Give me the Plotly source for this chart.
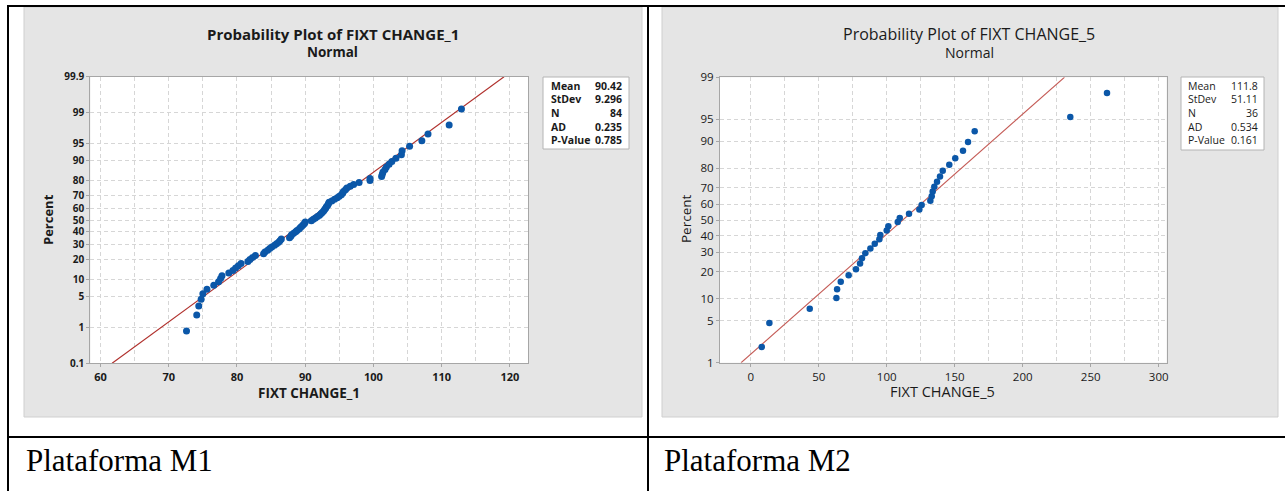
import plotly.graph_objects as go
from statistics import NormalDist

W, H = 1285, 491

# Sorted observations of FIXT CHANGE_1 (Plataforma M1)
fixt_change_1 = [
    72.6, 74.1, 74.4, 74.75, 75.0, 75.6, 76.6, 77.3, 77.6, 77.8,
    78.8, 79.4, 79.8, 80.2, 80.6, 81.6, 81.9, 82.3, 82.7, 83.9,
    84.1, 84.5, 84.8, 85.1, 85.5, 85.8, 86.1, 86.3, 86.5, 87.7,
    87.9, 88.0, 88.3, 88.6, 88.8, 89.1, 89.3, 89.5, 89.7, 89.9,
    90.0, 90.9, 91.2, 91.5, 91.8, 92.1, 92.3, 92.5, 92.7, 92.85,
    93.0, 93.1, 93.3, 93.4, 93.5, 93.9, 94.3, 94.7, 95.0, 95.3,
    95.5, 95.6, 95.9, 96.1, 96.6, 97.1, 97.9, 99.5, 99.5, 101.2,
    101.3, 101.4, 101.7, 101.9, 102.3, 102.7, 103.3, 104.1, 104.2, 105.3,
    107.1, 108.0, 111.1, 112.9,
]

# Sorted observations of FIXT CHANGE_5 (Plataforma M2)
fixt_change_5 = [
    8.1, 13.7, 43.4, 63.0, 63.5, 66.2, 72.0, 77.4, 80.4, 81.8,
    84.3, 88.0, 91.2, 94.6, 95.3, 100.0, 101.2, 108.1, 109.6, 116.4,
    124.0, 125.7, 132.1, 133.1, 133.8, 135.0, 137.0, 139.2, 141.2, 146.0,
    150.4, 156.1, 159.8, 164.7, 235.0, 262.0,
]

# Fitted normal parameters and goodness-of-fit summaries
mean_1, sd_1 = 90.42, 9.296
mean_5, sd_5 = 111.8, 51.11
stat_labels = ["Mean", "StDev", "N", "AD", "P-Value"]
stat_values_1 = ["90.42", "9.296", "84", "0.235", "0.785"]
stat_values_5 = ["111.8", "51.11", "36", "0.534", "0.161"]

# Percent ticks on the probability axes
pct_ticks_1 = [0.1, 1, 5, 10, 20, 30, 40, 50, 60, 70, 80, 90, 95, 99, 99.9]
pct_ticks_5 = [1, 5, 10, 20, 30, 40, 50, 60, 70, 80, 90, 95, 99]

captions = ["Plataforma M1", "Plataforma M2"]

nd = NormalDist()


def z(pct):
    return nd.inv_cdf(pct / 100.0)


def median_ranks(n):
    # Benard's approximation used for normal probability plots
    return [(i - 0.3) / (n + 0.4) * 100.0 for i in range(1, n + 1)]


def px(x):
    return x / W


def py(y):
    return 1 - y / H


MT_FONT = "Open Sans"
BLUE = "#0b57a8"
GRID = "#d6d6d6"
FRAME = "#a6a6a6"
TXT = "#1a1a1a"

fig = go.Figure()

panels = [
    dict(data=fixt_change_1, mean=mean_1, sd=sd_1, lo=0.1, hi=99.9, ticks=pct_ticks_1,
         xa="x", ya="y", line="#b0302c", msize=7),
    dict(data=fixt_change_5, mean=mean_5, sd=sd_5, lo=1, hi=99, ticks=pct_ticks_5,
         xa="x2", ya="y2", line="#c45a55", msize=6.5),
]

for p in panels:
    zlo, zhi = z(p["lo"]), z(p["hi"])
    fig.add_trace(go.Scatter(
        x=[p["mean"] + p["sd"] * zlo, p["mean"] + p["sd"] * zhi], y=[zlo, zhi],
        mode="lines", line=dict(color=p["line"], width=1.1),
        xaxis=p["xa"], yaxis=p["ya"], showlegend=False, hoverinfo="skip"))
    fig.add_trace(go.Scatter(
        x=p["data"], y=[z(q) for q in median_ranks(len(p["data"]))],
        mode="markers", marker=dict(color=BLUE, size=p["msize"], line=dict(width=0)),
        xaxis=p["xa"], yaxis=p["ya"], showlegend=False))


def xaxis_cfg(domain, rng, dtick, minor, bold, size):
    return dict(
        domain=domain, range=rng, tickmode="linear", tick0=0, dtick=dtick,
        showgrid=True, gridcolor=GRID, griddash="4px,3px", gridwidth=1,
        minor=dict(dtick=minor, tick0=0, showgrid=True, gridcolor=GRID,
                   griddash="4px,3px", ticks=""),
        showline=True, linecolor=FRAME, linewidth=1, mirror=True,
        ticks="outside", ticklen=3, tickcolor=FRAME, zeroline=False,
        automargin=False,
        tickfont=dict(family=MT_FONT, size=size, color=TXT,
                      weight="bold" if bold else "normal"),
        fixedrange=True)


def yaxis_cfg(domain, lo, hi, ticks, bold, size):
    return dict(
        domain=domain, range=[z(lo), z(hi)], tickmode="array",
        tickvals=[z(t) for t in ticks], ticktext=[f"{t:g}" for t in ticks],
        showgrid=True, gridcolor=GRID, griddash="4px,3px", gridwidth=1,
        showline=True, linecolor=FRAME, linewidth=1, mirror=True,
        ticks="outside", ticklen=3, tickcolor=FRAME, zeroline=False,
        automargin=False,
        tickfont=dict(family=MT_FONT, size=size, color=TXT,
                      weight="bold" if bold else "normal"),
        fixedrange=True)


fig.update_layout(
    width=W, height=H,
    margin=dict(l=0, r=0, t=0, b=0, pad=0, autoexpand=False),
    paper_bgcolor="white", plot_bgcolor="rgba(0,0,0,0)", showlegend=False,
    xaxis=xaxis_cfg([px(90.3), px(528.3)], [58.5, 122.7], 10, 5, True, 11),
    yaxis=yaxis_cfg([py(363.3), py(76.7)], 0.1, 99.9, pct_ticks_1, True, 10),
    xaxis2=xaxis_cfg([px(720), px(1166.7)], [-22.6, 305.9], 50, 25, False, 11.5),
    yaxis2=yaxis_cfg([py(362.7), py(77.3)], 1, 99, pct_ticks_5, False, 11.5),
)
fig.layout.xaxis.anchor = "y"
fig.layout.yaxis.anchor = "x"
fig.layout.xaxis2.anchor = "y2"
fig.layout.yaxis2.anchor = "x2"

shapes = []


def rect(x0, y0, x1, y1, fill, line_color=None, lw=0, layer="below"):
    shapes.append(dict(type="rect", xref="paper", yref="paper",
                       x0=px(x0), x1=px(x1), y0=py(y1), y1=py(y0),
                       fillcolor=fill, layer=layer,
                       line=dict(color=line_color or fill, width=lw)))


def seg(x0, y0, x1, y1, color="black", lw=2):
    shapes.append(dict(type="line", xref="paper", yref="paper",
                       x0=px(x0), x1=px(x1), y0=py(y0), y1=py(y1),
                       line=dict(color=color, width=lw), layer="above"))


# Minitab graph regions and white data regions
rect(24, 7, 642, 417, "#e5e5e5", "#cfcfcf", 1)
rect(662, 7, 1278, 417, "#e5e5e5", "#cfcfcf", 1)
rect(90.3, 76.7, 528.3, 363.3, "white")
rect(720, 77.3, 1166.7, 362.7, "white")

# Statistics boxes
rect(543, 77, 629, 149, "white", "#b4b4b4", 1, layer="above")
rect(1181, 77, 1264, 150, "white", "#b4b4b4", 1, layer="above")

# Table rules
seg(8, 6, 1285, 6)
seg(8, 437, 1285, 437)
seg(8, 5, 8, 491)
seg(648, 5, 648, 491)

fig.update_layout(shapes=shapes)

ann = []


def text(x, y, s, size, bold=False, family=MT_FONT, xanchor="center", angle=0, color=TXT):
    ann.append(dict(xref="paper", yref="paper", x=px(x), y=py(y), text=s,
                    showarrow=False, xanchor=xanchor, yanchor="middle",
                    textangle=angle,
                    font=dict(family=family, size=size, color=color,
                              weight="bold" if bold else "normal")))


# Left panel text (bold style)
text(333, 34, "Probability Plot of FIXT CHANGE_1", 15, bold=True)
text(332, 52, "Normal", 13.5, bold=True)
text(309, 393, "FIXT CHANGE_1", 13.5, bold=True)
text(48, 220, "Percent", 13, bold=True, angle=-90)

# Right panel text (regular style)
text(969, 34, "Probability Plot of FIXT CHANGE_5", 16)
text(969, 52, "Normal", 14)
text(943, 391, "FIXT CHANGE_5", 14.5)
text(686, 219, "Percent", 13.5, angle=-90)

rows_y = [86, 99.5, 113, 126.5, 140]
for lab, val, yy in zip(stat_labels, stat_values_1, rows_y):
    text(549, yy, lab, 10.5, bold=True, xanchor="left")
    text(624, yy, val, 10.5, bold=True, xanchor="right")
for lab, val, yy in zip(stat_labels, stat_values_5, rows_y):
    text(1186, yy, lab, 10.5, xanchor="left")
    text(1260, yy, val, 10.5, xanchor="right")

# Table captions
text(24, 460, captions[0], 31, family="Liberation Serif", xanchor="left", color="black")
text(662, 460, captions[1], 31, family="Liberation Serif", xanchor="left", color="black")

fig.update_layout(annotations=ann)

fig.write_html("out.html")
